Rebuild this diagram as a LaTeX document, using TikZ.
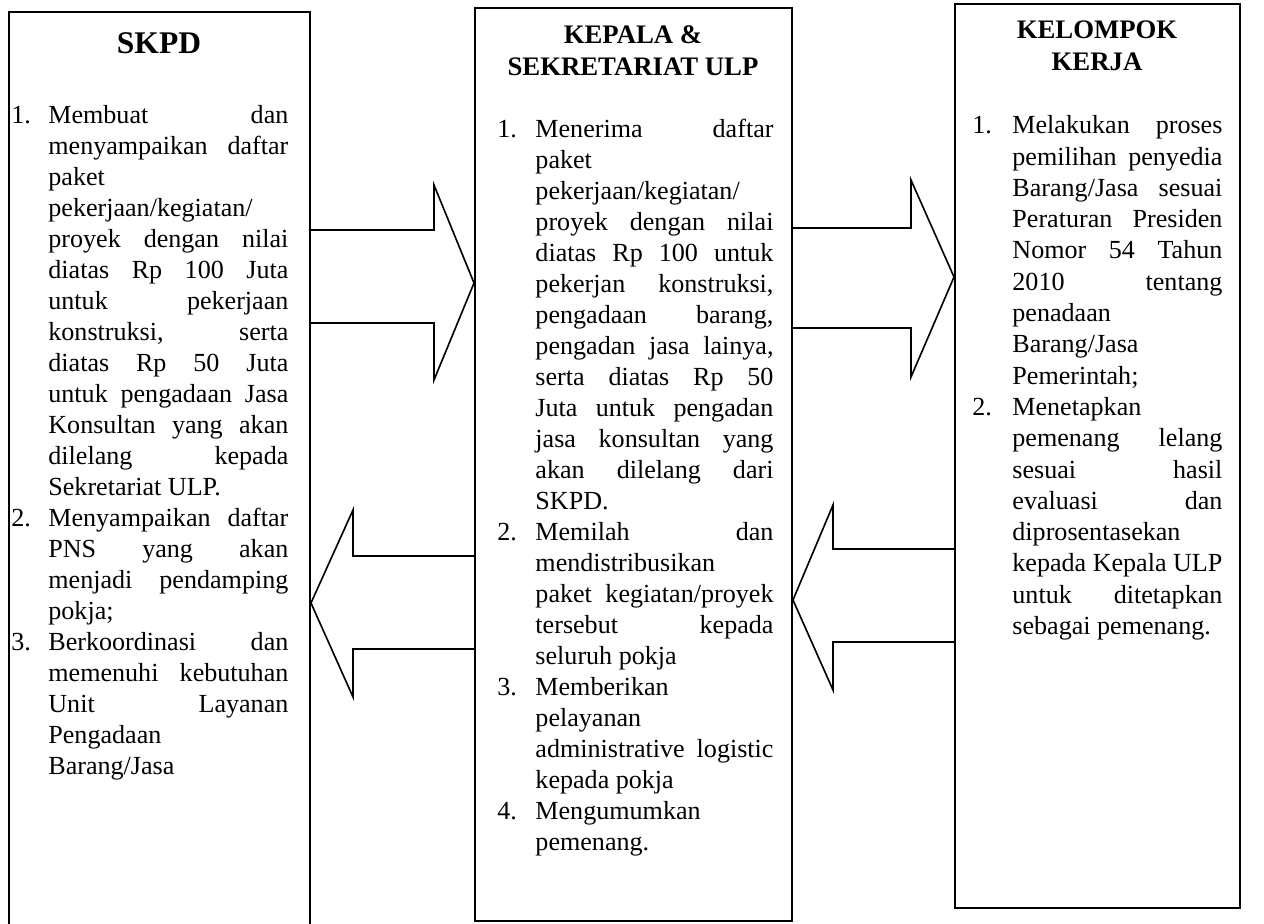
\documentclass[tikz,border=0pt]{standalone}
\usepackage{fontspec}
\setmainfont{Liberation Serif}
\usetikzlibrary{fit}

\tolerance=10000
\hbadness=10000
\hfuzz=6pt
\hyphenpenalty=10000
\exhyphenpenalty=10000

\newlength{\hangbutir}
\newcommand{\butir}[2]{\par\noindent\hangindent=\hangbutir\hangafter=1%
  \strut\makebox[\hangbutir][l]{#1}#2\par}

\tikzset{
  kotak/.style={draw, line width=0.9pt, inner sep=0pt},
  judul/.style={anchor=base, inner sep=0pt, font=\fontsize{12.3}{14}\selectfont\bfseries},
  isi/.style={anchor=north west, inner sep=0pt, align=justify,
    font=\fontsize{12}{14.26}\selectfont},
  panah/.style={line width=0.75pt, line join=miter},
}

\begin{document}
\begin{tikzpicture}[x=0.46pt, y=-0.46pt]
  \useasboundingbox (0,0) rectangle (1264,924);
  % tiga kotak utama
  \node[kotak, fit={(9,12) (310,932)}] (skpd) {};
  \node[kotak, fit={(475,8) (792,921)}] (kepala) {};
  \node[kotak, fit={(955,4) (1240,908)}] (pokja) {};
  % judul kotak
  \node[judul, font=\fontsize{14.5}{17}\selectfont\bfseries] (jskpd) at (159,53) {SKPD};
  \node[judul] (jkepala1) at (633,43) {KEPALA \&};
  \node[judul] (jkepala2) at (633,75) {SEKRETARIAT ULP};
  \node[judul] (jpokja1) at (1097,38) {KELOMPOK};
  \node[judul] (jpokja2) at (1097,70) {KERJA};
  % panah blok
  \draw[panah] (skpd.east |- 0,230) -| (434,185) -- (kepala.west |- 0,283) -- (434,380) |- (skpd.east |- 0,323);
  \draw[panah] (kepala.west |- 0,556) -| (353,510) -- (skpd.east |- 0,603) -- (353,697) |- (kepala.west |- 0,649);
  \draw[panah] (kepala.east |- 0,228) -| (911,180) -- (pokja.west |- 0,277) -- (911,377) |- (kepala.east |- 0,328);
  \draw[panah] (pokja.west |- 0,549) -| (833,505) -- (kepala.east |- 0,600) -- (833,690) |- (pokja.west |- 0,642);
  % isi SKPD
  \node[isi, text width=127.4pt] (iskpd) at (11,92.5) {\setlength{\hangbutir}{17pt}%
    \butir{1.}{Membuat dan\linebreak menyampaikan daftar\linebreak paket\linebreak
      pekerjaan/kegiatan/\linebreak proyek dengan nilai\linebreak diatas Rp 100 Juta\linebreak
      untuk pekerjaan\linebreak konstruksi, serta\linebreak diatas Rp 50 Juta\linebreak
      untuk pengadaan Jasa\linebreak Konsultan yang akan\linebreak dilelang kepada\linebreak
      Sekretariat ULP.}%
    \butir{2.}{Menyampaikan daftar\linebreak PNS yang akan\linebreak menjadi pendamping\linebreak pokja;}%
    \butir{3.}{Berkoordinasi dan\linebreak memenuhi kebutuhan\linebreak Unit Layanan\linebreak
      Pengadaan\linebreak Barang/Jasa}};
  % isi kepala & sekretariat
  \node[isi, text width=127pt] (ikepala) at (497,106.5) {\setlength{\hangbutir}{17.5pt}%
    \butir{1.}{Menerima daftar\linebreak paket\linebreak pekerjaan/kegiatan/\linebreak
      proyek dengan nilai\linebreak diatas Rp 100 untuk\linebreak pekerjan konstruksi,\linebreak
      pengadaan barang,\linebreak pengadan jasa lainya,\linebreak serta diatas Rp 50\linebreak
      Juta untuk pengadan\linebreak jasa konsultan yang\linebreak akan dilelang dari\linebreak SKPD.}%
    \butir{2.}{Memilah dan\linebreak mendistribusikan\linebreak paket kegiatan/proyek\linebreak
      tersebut kepada\linebreak seluruh pokja}%
    \butir{3.}{Memberikan\linebreak pelayanan\linebreak administrative logistic\linebreak kepada pokja}%
    \butir{4.}{Mengumumkan\linebreak pemenang.}};
  % isi kelompok kerja
  \node[isi, text width=115pt, font=\fontsize{12}{14.4}\selectfont] (ipokja) at (972,102) {\setlength{\hangbutir}{18.4pt}%
    \butir{1.}{Melakukan proses\linebreak pemilihan penyedia\linebreak Barang/Jasa sesuai\linebreak
      Peraturan Presiden\linebreak Nomor 54 Tahun\linebreak 2010 tentang\linebreak penadaan\linebreak
      Barang/Jasa\linebreak Pemerintah;}%
    \butir{2.}{Menetapkan\linebreak pemenang lelang\linebreak sesuai hasil\linebreak evaluasi dan\linebreak
      diprosentasekan\linebreak kepada Kepala ULP\linebreak untuk ditetapkan\linebreak sebagai pemenang.}};
\end{tikzpicture}
\end{document}
